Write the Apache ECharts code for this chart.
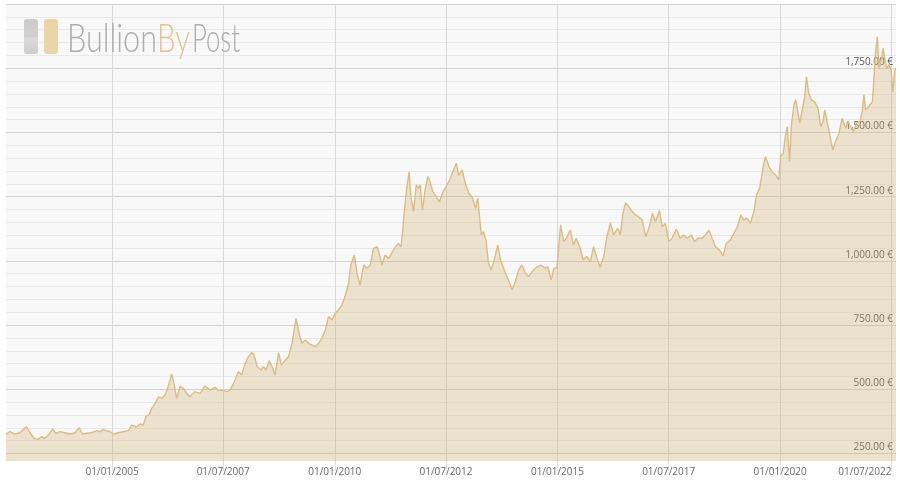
<!DOCTYPE html>
<html><head><meta charset="utf-8">
<script src="https://cdn.jsdelivr.net/npm/echarts@6/dist/echarts.min.js"></script>
<style>html,body{margin:0;padding:0;background:#fff}#c{width:900px;height:483px}</style>
</head><body><div id="c"></div>
<script>
// Dates as decimal years, prices in EUR
const years = [
2002.62,2002.71,2002.82,2002.93,2003.01,2003.08,2003.16,2003.25,2003.34,2003.42,2003.49,2003.57,2003.67,2003.74,2003.83,2003.94,
2004.06,2004.17,2004.26,2004.34,2004.43,2004.54,2004.66,2004.73,2004.80,2004.88,2004.96,
2005.03,2005.14,2005.25,2005.37,2005.44,2005.55,2005.63,2005.70,2005.76,2005.84,2005.89,2005.97,
2006.04,2006.12,2006.19,2006.26,2006.34,2006.39,2006.45,2006.53,2006.60,2006.68,2006.75,2006.86,2006.98,
2007.09,2007.20,2007.31,2007.39,2007.46,2007.58,2007.65,2007.73,2007.84,2007.91,2007.99,
2008.06,2008.14,2008.19,2008.26,2008.34,2008.40,2008.46,2008.53,2008.61,2008.66,2008.74,2008.80,2008.89,2008.96,
2009.04,2009.13,2009.20,2009.26,2009.34,2009.41,2009.49,2009.56,2009.64,2009.71,2009.79,2009.86,2009.94,
2010.01,2010.08,2010.16,2010.23,2010.31,2010.36,2010.44,2010.50,2010.57,2010.65,2010.72,2010.80,2010.87,2010.95,2010.98,
2011.06,2011.13,2011.21,2011.28,2011.36,2011.43,2011.49,2011.53,2011.58,2011.62,2011.67,2011.71,2011.77,2011.83,2011.88,2011.92,2011.97,
2012.03,2012.09,2012.14,2012.20,2012.28,2012.35,2012.43,2012.50,2012.58,2012.65,2012.73,2012.78,2012.86,2012.93,
2013.01,2013.08,2013.16,2013.21,2013.25,2013.29,2013.34,2013.40,2013.45,2013.51,2013.57,2013.66,2013.72,2013.79,2013.85,2013.93,2013.98,
2014.05,2014.13,2014.20,2014.28,2014.35,2014.43,2014.50,2014.62,2014.73,2014.78,2014.86,2014.92,2014.99,
2015.07,2015.14,2015.20,2015.29,2015.36,2015.42,2015.50,2015.58,2015.66,2015.74,2015.81,2015.89,2015.96,
2016.04,2016.11,2016.19,2016.26,2016.35,2016.41,2016.47,2016.53,2016.60,2016.68,2016.75,2016.82,2016.90,2016.98,
2017.05,2017.13,2017.20,2017.29,2017.35,2017.42,2017.50,2017.57,2017.67,2017.75,2017.83,2017.91,
2018.00,2018.08,2018.15,2018.25,2018.32,2018.40,2018.47,2018.55,2018.64,2018.72,2018.79,2018.88,2018.96,
2019.04,2019.12,2019.18,2019.26,2019.33,2019.41,2019.47,2019.54,2019.62,2019.67,2019.75,2019.82,2019.90,2019.97,
2020.01,2020.07,2020.12,2020.16,2020.21,2020.25,2020.31,2020.35,2020.40,2020.44,2020.50,2020.55,2020.59,2020.64,2020.70,2020.77,2020.85,2020.91,2020.96,
2021.00,2021.06,2021.12,2021.18,2021.24,2021.32,2021.39,2021.47,2021.52,2021.58,2021.64,2021.71,2021.79,2021.84,2021.88,2021.92,2021.99,
2022.07,2022.10,2022.14,2022.18,2022.22,2022.27,2022.31,2022.34,2022.39,2022.44,2022.49,2022.53,2022.57,2022.60
];
const prices = [
326,335,326,331,344,354,331,309,305,316,309,322,345,329,335,331,
326,331,351,326,329,331,339,335,344,339,335,
326,331,335,339,361,354,365,361,393,404,426,446,
471,465,478,510,560,523,465,513,504,484,471,491,484,
513,497,508,495,497,491,497,523,569,556,601,
627,643,634,588,575,588,575,611,582,556,643,594,614,627,
679,776,718,679,692,679,672,666,679,699,731,783,770,
796,809,828,861,913,984,1023,952,906,984,971,984,1049,1055,1042,
984,1023,1010,1030,1055,1068,1055,1127,1224,1289,1347,1250,1192,1296,1283,1296,1198,
1276,1328,1308,1270,1250,1230,1270,1289,1315,1347,1380,1334,1354,1302,
1263,1250,1205,1244,1172,1101,1114,1075,991,965,997,1062,1004,971,945,913,887,
919,965,984,952,939,958,971,984,971,978,926,971,975,
1140,1075,1088,1120,1062,1088,1055,1004,1017,997,1055,1010,975,
1017,1094,1148,1101,1127,1101,1185,1227,1211,1192,1179,1172,1159,1094,
1127,1185,1153,1196,1133,1146,1075,1088,1123,1088,1101,1088,
1101,1075,1088,1088,1101,1120,1088,1055,1042,1019,1068,1081,1107,
1133,1179,1159,1166,1146,1192,1257,1283,1367,1406,1367,1347,1334,1315,
1406,1419,1490,1523,1386,1523,1607,1627,1575,1536,1594,1640,1717,1653,1627,1620,1594,1523,1542,
1588,1536,1484,1432,1464,1497,1555,1516,1542,1523,1503,1536,1542,1581,1646,1588,1601,
1620,1698,1808,1873,1750,1782,1828,1795,1750,1763,1743,1659,1737,1750
];
const xTickDates = ['2005-01-01','2007-07-01','2010-01-01','2012-07-01','2015-01-01','2017-07-01','2020-01-01','2022-07-01'];
const yLabelValues = [250,500,750,1000,1250,1500,1750];
const yGridValues = [250,300,350,400,450,500,550,600,650,700,750,800,850,900,950,1000,1050,1100,1150,1200,1250,1300,1350,1400,1450,1500,1550,1600,1650,1700,1750,1800,1850,1900,1950,2000];
const yMin = 221, yMax = 2000;

function yearToTs(y){ const yr=Math.floor(y); const s=Date.UTC(yr,0,1), e=Date.UTC(yr+1,0,1); return s+(y-yr)*(e-s); }
function dateToTs(d){ const p=d.split('-').map(Number); return Date.UTC(p[0],p[1]-1,p[2]); }
function pad(n){ return (n<10?'0':'')+n; }
function fmtDate(ts){ const d=new Date(Number(ts)); return pad(d.getUTCDate())+'/'+pad(d.getUTCMonth()+1)+'/'+d.getUTCFullYear(); }

const seriesData = years.map((y,i)=>[yearToTs(y), prices[i]]);
const xTicks = xTickDates.map(dateToTs);

const chart = echarts.init(document.getElementById('c'), null, {renderer:'canvas'});

const ctx = document.createElement('canvas').getContext('2d');
const logoFont = '300 39px Lato';
ctx.font = logoFont;
function sx(txt, w){ return w / ctx.measureText(txt).width; }

chart.setOption({
  animation:false,
  backgroundColor:'#ffffff',
  grid:{left:6,right:4,top:4,bottom:22,show:true,backgroundColor:'#f8f8f8',borderWidth:0},
  xAxis:{
    type:'value',
    min:seriesData[0][0], max:seriesData[seriesData.length-1][0],
    axisLine:{show:false},
    axisTick:{show:true,length:10,customValues:xTicks,lineStyle:{color:'#dedede'}},
    axisLabel:{customValues:xTicks,formatter:(v)=>fmtDate(v),color:'#666',fontSize:10,fontFamily:'Open Sans',margin:6,alignMaxLabel:'right',hideOverlap:false},
    splitLine:{show:true,lineStyle:{color:'#d8d8d8',width:1}}
  },
  yAxis:{
    type:'value', position:'right', min:yMin, max:yMax,
    axisLine:{show:false},
    axisTick:{show:false,customValues:yGridValues},
    axisLabel:{inside:true,customValues:yLabelValues,
      formatter:(v)=>Number(v).toLocaleString('en-US',{minimumFractionDigits:2,maximumFractionDigits:2})+' €',
      verticalAlign:'bottom',margin:3,color:'#555',fontSize:10,fontFamily:'Open Sans',padding:[0,0,1,0]},
    splitLine:{show:true,lineStyle:{color:['#d2d2d2','#e9e9e9','#e9e9e9','#e9e9e9','#e9e9e9'],width:1}}
  },
  series:[{
    type:'line', data:seriesData, showSymbol:false, symbol:'none', smooth:false, sampling:'none',
    lineStyle:{color:'#d8bd86',width:1.4},
    areaStyle:{color:'rgba(212,176,112,0.46)'},
    z:2
  }],
  graphic:[
    {type:'rect',left:24,top:19,shape:{width:14,height:35,r:3},style:{fill:new echarts.graphic.LinearGradient(0,0,0,1,[{offset:0,color:'#cbcbcb'},{offset:0.5,color:'#d0d0d0'},{offset:0.55,color:'#dadada'},{offset:1,color:'#cdcdcd'}])},z:10},
    {type:'rect',left:44,top:19,shape:{width:14,height:35,r:3},style:{fill:'#ead5a6'},z:10},
    {type:'text',x:67,y:39,scaleX:sx('Bullion',90),style:{text:'Bullion',font:logoFont,fill:'#adadad',verticalAlign:'middle'},z:10},
    {type:'text',x:157,y:39,scaleX:sx('By',33),style:{text:'By',font:logoFont,fill:'#dfc690',verticalAlign:'middle'},z:10},
    {type:'text',x:192,y:39,scaleX:sx('Post',48),style:{text:'Post',font:logoFont,fill:'#adadad',verticalAlign:'middle'},z:10}
  ]
});
</script></body></html>
